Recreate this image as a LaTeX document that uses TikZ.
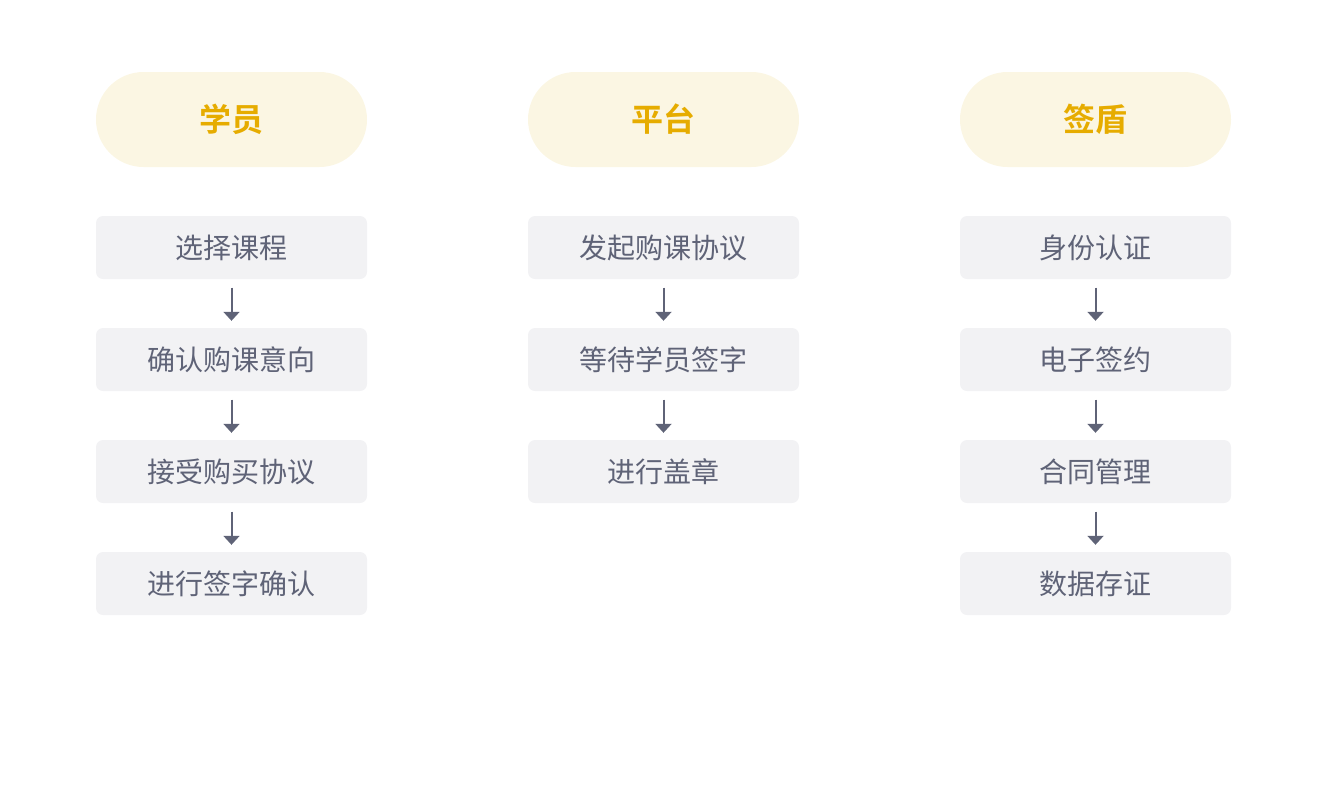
\documentclass[tikz,border=0pt]{standalone}
\usepackage{fontspec}
\newfontfamily\cjk{Noto Sans CJK SC}
\newfontfamily\cjkb{Noto Sans CJK SC Bold}
\usetikzlibrary{arrows.meta}
\definecolor{pillfill}{HTML}{FBF6E3}
\definecolor{pilltext}{HTML}{E6AC00}
\definecolor{boxfill}{HTML}{F2F2F4}
\definecolor{boxtext}{HTML}{5F6377}
\tikzset{
  pill/.style={fill=pillfill, text=pilltext, rounded corners=47.5pt, minimum width=271pt, minimum height=95pt, inner sep=0pt, font=\cjkb\fontsize{32}{32}\selectfont},
  stepbox/.style={fill=boxfill, text=boxtext, rounded corners=7pt, minimum width=271pt, minimum height=63pt, inner sep=0pt, font=\cjk\fontsize{28}{28}\selectfont},
  flowarrow/.style={draw=boxtext, line width=2pt, -{Triangle[length=9pt,width=16pt]}, shorten <=8.5pt, shorten >=7pt}
}
\begin{document}
\begin{tikzpicture}[x=1pt,y=-1pt]
\path[use as bounding box] (0,0) rectangle (1328,804);
% column 1
\node[pill] (h1) at (231.5,119.5) {学员};
\node[stepbox] (a1) at (231.5,247.5) {选择课程};
\node[stepbox] (a2) at (231.5,359.5) {确认购课意向};
\node[stepbox] (a3) at (231.5,471.5) {接受购买协议};
\node[stepbox] (a4) at (231.5,583.5) {进行签字确认};
\draw[flowarrow] (a1) -- (a2);
\draw[flowarrow] (a2) -- (a3);
\draw[flowarrow] (a3) -- (a4);
% column 2
\node[pill] (h2) at (663.5,119.5) {平台};
\node[stepbox] (b1) at (663.5,247.5) {发起购课协议};
\node[stepbox] (b2) at (663.5,359.5) {等待学员签字};
\node[stepbox] (b3) at (663.5,471.5) {进行盖章};
\draw[flowarrow] (b1) -- (b2);
\draw[flowarrow] (b2) -- (b3);
% column 3
\node[pill] (h3) at (1095.5,119.5) {签盾};
\node[stepbox] (c1) at (1095.5,247.5) {身份认证};
\node[stepbox] (c2) at (1095.5,359.5) {电子签约};
\node[stepbox] (c3) at (1095.5,471.5) {合同管理};
\node[stepbox] (c4) at (1095.5,583.5) {数据存证};
\draw[flowarrow] (c1) -- (c2);
\draw[flowarrow] (c2) -- (c3);
\draw[flowarrow] (c3) -- (c4);
\end{tikzpicture}
\end{document}
